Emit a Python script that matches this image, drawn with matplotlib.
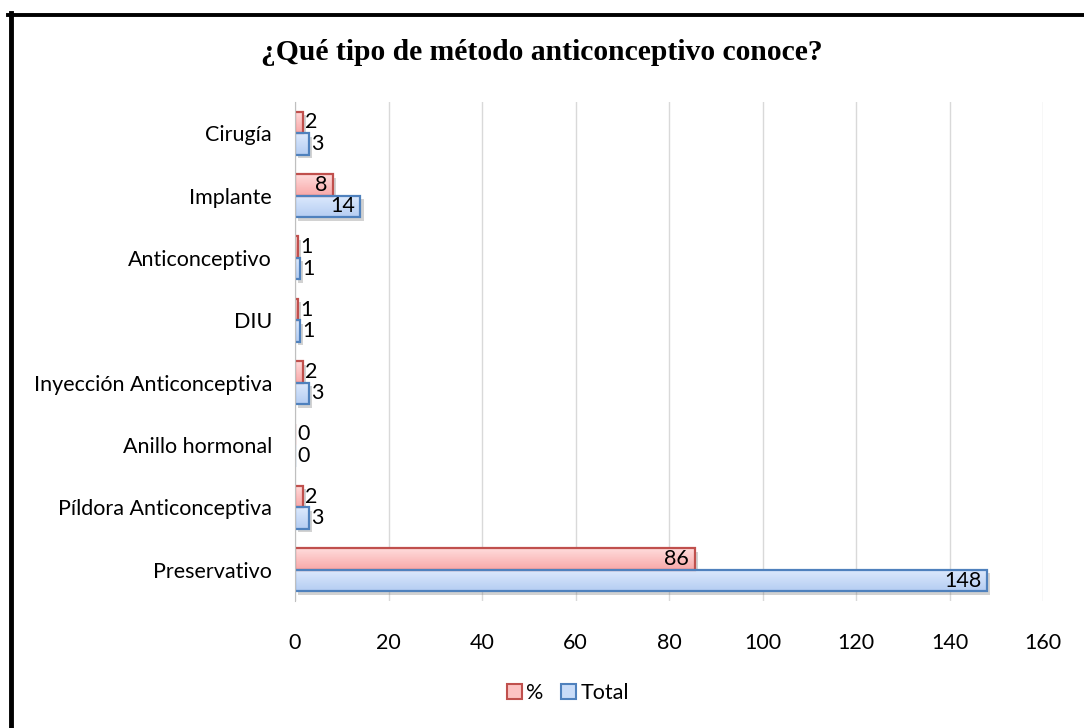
import matplotlib
matplotlib.use("Agg")
import matplotlib.pyplot as plt
import numpy as np
from matplotlib.lines import Line2D
from matplotlib.patches import Patch
from matplotlib.colors import LinearSegmentedColormap
import matplotlib.patheffects as pe

categories = ["Cirugía", "Implante", "Anticonceptivo", "DIU", "Inyección Anticonceptiva",
              "Anillo hormonal", "Píldora Anticonceptiva", "Preservativo"]
pct = [1.7, 8.1, 0.6, 0.6, 1.7, 0.0, 1.7, 85.5]
total = [3, 14, 1, 1, 3, 0, 3, 148]
xticks = [0, 20, 40, 60, 80, 100, 120, 140, 160]

FONT = "Lato"
plt.rcParams["font.family"] = [FONT, "DejaVu Sans"]
FS = 15.5

fig = plt.figure(figsize=(10.84, 7.28), dpi=100)
ax = fig.add_axes([295/1084, 1-601/728, (1043-295)/1084, (601-102)/728])

n = len(categories)
y = np.arange(n)
h = 0.345
red_top, red_bot, red_edge = "#FFDCDC", "#F8A8A8", "#C0504D"
blue_top, blue_bot, blue_edge = "#DDEAFD", "#B5CDF2", "#4F81BD"
grad = np.linspace(0, 1, 64).reshape(-1, 1)

def bars(vals, off, ctop, cbot, cedge):
    cmap = LinearSegmentedColormap.from_list("g", [ctop, cbot])
    rects = ax.barh(y + off, vals, height=h, color=cbot, edgecolor="none", zorder=3,
                    path_effects=[pe.SimplePatchShadow(offset=(2.5, -2.5), shadow_rgbFace="#7F7F7F", alpha=0.35),
                                  pe.Normal()])
    for r in rects:
        x0, w = r.get_x(), r.get_width()
        if w <= 0:
            continue
        yb, hh = r.get_y(), r.get_height()
        im = ax.imshow(grad, cmap=cmap, extent=(x0, x0 + w, yb + hh, yb), origin="upper",
                       aspect="auto", interpolation="bilinear", zorder=3.1)
        im.set_clip_path(r)
    ax.barh(y + off, vals, height=h, fill=False, edgecolor=cedge, linewidth=1.6, zorder=3.2)

bars(pct, -h/2, red_top, red_bot, red_edge)
bars(total, h/2, blue_top, blue_bot, blue_edge)

def label(vals, off):
    for yi, v in zip(y, vals):
        txt = f"{v:.0f}"
        if v > 5:
            ax.text(v - 1.2, yi + off, txt, ha="right", va="center", fontsize=FS, zorder=4)
        else:
            ax.text(v + 0.5, yi + off, txt, ha="left", va="center", fontsize=FS, zorder=4)

label(pct, -h/2)
label(total, h/2)

ax.set_ylim(n - 0.5, -0.5)
ax.set_xlim(0, 160)
ax.set_aspect("auto")
ax.set_xticks(xticks)
ax.set_xticklabels([str(t) for t in xticks], fontsize=FS)
ax.set_yticks(y)
ax.set_yticklabels(categories, fontsize=FS)
ax.tick_params(axis="x", length=0, pad=23)
ax.tick_params(axis="y", length=0, pad=16.5)
ax.grid(axis="x", color="#D9D9D9", linewidth=1, zorder=0)
ax.set_axisbelow(True)
for s in ["top", "right", "bottom"]:
    ax.spines[s].set_visible(False)
ax.spines["left"].set_color("#BFBFBF")
ax.spines["left"].set_zorder(5)

fig.text(542/1084, 1-52/728, "¿Qué tipo de método anticonceptivo conoce?", ha="center", va="center",
         fontsize=21.3, fontweight="bold", family="Liberation Serif")

handles = [Patch(facecolor="#FCC3C3", edgecolor=red_edge, linewidth=1.5, label="%"),
           Patch(facecolor="#C9DCF8", edgecolor=blue_edge, linewidth=1.5, label="Total")]
fig.legend(handles=handles, loc="center", bbox_to_anchor=(568/1084, 1-693/728), ncol=2,
           frameon=False, fontsize=FS, handlelength=0.7, handleheight=0.7, handletextpad=0.2,
           columnspacing=0.8)

fig.add_artist(Line2D([8/1084, 1], [1-14.5/728, 1-14.5/728], color="black", linewidth=2.8,
                      transform=fig.transFigure))
fig.add_artist(Line2D([10.5/1084, 10.5/1084], [0, 1-13/728], color="black", linewidth=3.5,
                      transform=fig.transFigure))

fig.savefig("out.png", dpi=100)
